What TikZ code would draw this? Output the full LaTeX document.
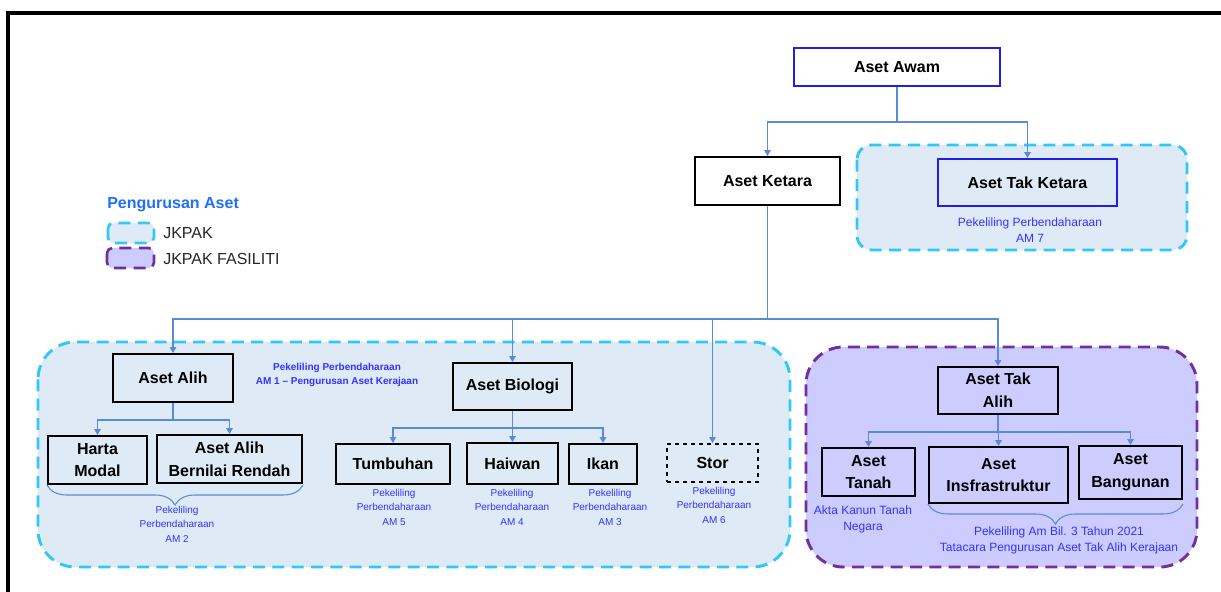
\documentclass[tikz,border=0pt]{standalone}
\usepackage{fontspec}
\setmainfont{Liberation Sans}
\usepackage{tikz}
\usetikzlibrary{arrows.meta, decorations.pathreplacing}
\definecolor{jkpakFill}{HTML}{DEEBF7}
\definecolor{jkpakLine}{HTML}{33C7F7}
\definecolor{fasFill}{HTML}{CCCCFF}
\definecolor{fasLine}{HTML}{7030A0}
\definecolor{linkBlue}{HTML}{5B8BD6}
\definecolor{boxBlue}{HTML}{1F1FE6}
\definecolor{noteBlue}{HTML}{3333FF}
\definecolor{titleBlue}{HTML}{1F6FFF}

\begin{document}
\begin{tikzpicture}[x=0.75pt, y=-0.75pt,
    box/.style={draw=black, line width=1.5pt, inner sep=0pt, align=center,
        font=\bfseries\fontsize{12}{17}\selectfont},
    bluebox/.style={box, draw=boxBlue},
    link/.style={linkBlue, line width=0.8pt},
    arrow/.style={link, -{Triangle[width=5pt,length=4.5pt]}},
    note/.style={align=center, text=noteBlue, inner sep=0pt,
        font=\fontsize{7.5}{10.9}\selectfont},
    bignote/.style={note, font=\fontsize{9}{12.5}\selectfont},
    jkpak/.style={draw=jkpakLine, fill=jkpakFill, line width=2.2pt,
        dash pattern=on 9pt off 5.5pt},
    fasiliti/.style={draw=fasLine, fill=fasFill, line width=2.2pt,
        dash pattern=on 9pt off 5.5pt},
    brace/.style={link, decorate, decoration={brace, mirror, amplitude=15pt}},
    legend/.style={anchor=west, inner sep=0pt, text=black!85,
        font=\fontsize{12}{14}\selectfont}]
    \useasboundingbox (0,0) rectangle (1221,592);
    \draw[line width=2.3pt] (8,592) -- (8,13) -- (1221,13);

    % areas of management
    \draw[jkpak, rounded corners=11pt] (857,145) rectangle (1187,250);
    \draw[jkpak, rounded corners=28pt] (38,342) rectangle (790,567);
    \draw[fasiliti, rounded corners=28pt] (806,347) rectangle (1197,567);

    % legend
    \node[legend, text=titleBlue, font=\bfseries\fontsize{12}{14}\selectfont]
        (legtitle) at (107,205) {Pengurusan Aset};
    \draw[jkpak, rounded corners=4pt, line width=2pt] (108,223) rectangle (154,243);
    \draw[fasiliti, rounded corners=4pt, line width=2pt] (107,248) rectangle (154,268);
    \node[legend] (legjkpak) at (163,233) {JKPAK};
    \node[legend] (legfas) at (163,259) {JKPAK FASILITI};

    % boxes
    \node[bluebox, minimum width=154.5pt, minimum height=28.5pt] (awam) at (897,67) {Aset Awam};
    \node[box, minimum width=108.75pt, minimum height=36pt] (ketara) at (767.5,181) {Aset Ketara};
    \node[bluebox, minimum width=134.25pt, minimum height=35.25pt] (takketara) at (1027.5,182.5) {Aset Tak Ketara};
    \node[box, minimum width=90pt, minimum height=36pt] (alih) at (173,378) {Aset Alih};
    \node[box, minimum width=89.25pt, minimum height=35.25pt] (biologi) at (512.5,386.5) {Aset Biologi};
    \node[box, minimum width=90pt, minimum height=35.25pt] (takalih) at (998,390.5) {Aset Tak\\Alih};
    \node[box, minimum width=74.25pt, minimum height=36pt] (harta) at (97.5,460) {Harta\\Modal};
    \node[box, minimum width=108.75pt, minimum height=36pt] (abr) at (229.5,459) {Aset Alih\\Bernilai Rendah};
    \node[box, minimum width=85.5pt, minimum height=30pt] (tumbuhan) at (393,464) {Tumbuhan};
    \node[box, minimum width=68.25pt, minimum height=30.75pt] (haiwan) at (512.5,463.5) {Haiwan};
    \node[box, minimum width=51pt, minimum height=30pt] (ikan) at (603,464) {Ikan};
    \node[box, dashed, minimum width=68.25pt, minimum height=28.5pt] (stor) at (712.5,463) {Stor};
    \node[box, minimum width=69.75pt, minimum height=36pt] (tanah) at (868.5,472) {Aset\\Tanah};
    \node[box, minimum width=104.25pt, minimum height=42pt] (infra) at (998.5,475) {Aset\\Insfrastruktur};
    \node[box, minimum width=77.25pt, minimum height=39.75pt] (bangunan) at (1130.5,472.5) {Aset\\Bangunan};

    % connectors
    \foreach \child in {ketara, takketara}
        \draw[arrow] (awam.south) -- ++(0,35) -| (\child.north);
    \foreach \child in {alih, biologi, stor, takalih}
        \draw[arrow] (ketara.south) -- ++(0,113) -| (\child.north);
    \foreach \child in {harta, abr}
        \draw[arrow] (alih.south) -- ++(0,17) -| (\child.north);
    \foreach \child in {tumbuhan, haiwan, ikan}
        \draw[arrow] (biologi.south) -- ++(0,17) -| (\child.north);
    \foreach \child in {tanah, infra, bangunan}
        \draw[arrow] (takalih.south) -- ++(0,17) -| (\child.north);
    \draw[brace] (harta.south west) -- (harta.south west -| abr.south east);
    \draw[brace] (infra.south west) -- (infra.south west -| bangunan.south east);

    % circulars
    \node[bignote] (am7) at (1030,230) {Pekeliling Perbendaharaan\\AM 7};
    \node[note, font=\bfseries\fontsize{7.5}{10.5}\selectfont] (am1) at (337,375)
        {Pekeliling Perbendaharaan\\AM 1 -- Pengurusan Aset Kerajaan};
    \node[note] (am2) at (177,524) {Pekeliling\\Perbendaharaan\\AM 2};
    \node[note] (am5) at (394,507) {Pekeliling\\Perbendaharaan\\AM 5};
    \node[note] (am4) at (512,507) {Pekeliling\\Perbendaharaan\\AM 4};
    \node[note] (am3) at (610,507) {Pekeliling\\Perbendaharaan\\AM 3};
    \node[note] (am6) at (714,505) {Pekeliling\\Perbendaharaan\\AM 6};
    \node[bignote] (aktktn) at (863,519.5) {Akta Kanun Tanah\\Negara};
    \node[bignote] (pkam) at (1059,540.5) {Pekeliling Am Bil. 3 Tahun 2021\\Tatacara Pengurusan Aset Tak Alih Kerajaan};
\end{tikzpicture}
\end{document}
